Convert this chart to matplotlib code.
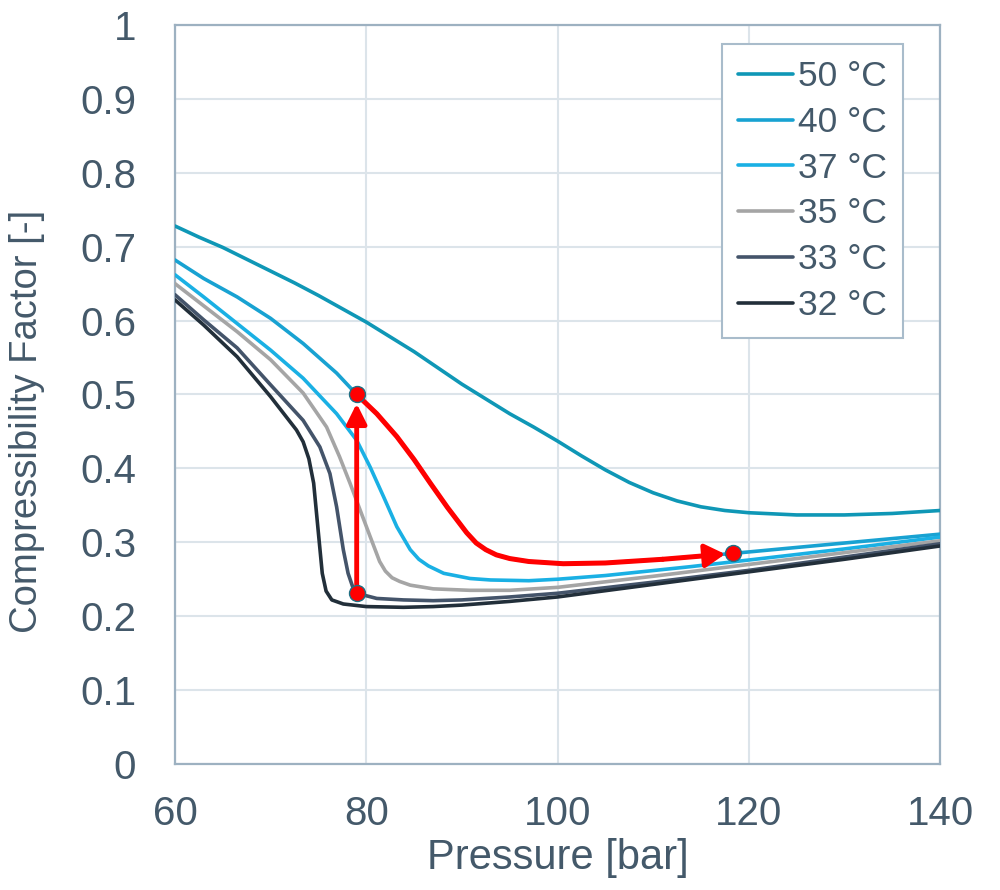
import numpy as np
import matplotlib
matplotlib.use("Agg")
import matplotlib.pyplot as plt

# Kompresibilnostni faktor CO2 pri razlicnih temperaturah
p_50 = [60, 62.5, 65, 67.5, 70, 72.5, 75, 77.5, 80, 82.5, 85, 87.5, 90, 92.5, 95, 97.5, 100,
        102.5, 105, 107.5, 110, 112.5, 115, 117.5, 120, 125, 130, 135, 140]
z_50 = [0.728, 0.713, 0.699, 0.683, 0.667, 0.651, 0.634, 0.616, 0.598, 0.578, 0.558, 0.536, 0.514, 0.494, 0.474, 0.456, 0.437,
        0.417, 0.398, 0.381, 0.367, 0.356, 0.348, 0.343, 0.340, 0.337, 0.337, 0.339, 0.343]

p_40 = [60, 63, 66.5, 70, 73.4, 76.9, 79, 81.1, 83.2, 85, 86.7, 88.5, 89.5, 90.5, 91.5, 92.5, 93.6, 95, 97,
        100.6, 105, 111, 118.4, 125, 130, 135, 140]
z_40 = [0.682, 0.657, 0.632, 0.603, 0.569, 0.529, 0.500, 0.474, 0.443, 0.412, 0.380, 0.347, 0.330, 0.313, 0.299, 0.290, 0.283, 0.278, 0.274,
        0.271, 0.272, 0.277, 0.285, 0.293, 0.299, 0.305, 0.311]

p_37 = [60, 63, 66.5, 70, 73.4, 76.9, 79, 80.4, 81.8, 83.2, 84.6, 85.5, 86.5, 88.1, 90.85, 93, 97, 100, 105, 113.9, 120, 130, 140]
z_37 = [0.662, 0.632, 0.596, 0.560, 0.522, 0.474, 0.438, 0.402, 0.362, 0.321, 0.290, 0.277, 0.268, 0.258, 0.251, 0.249, 0.248, 0.250, 0.255, 0.267, 0.276, 0.291, 0.307]

p_35 = [60, 63, 66.5, 70, 73.4, 75.85, 77.2, 78.3, 79.35, 80.4, 81.4, 82, 82.7, 83.5, 84.6, 87, 90.85, 95, 100, 110, 120, 130, 140]
z_35 = [0.650, 0.620, 0.585, 0.547, 0.502, 0.456, 0.416, 0.380, 0.344, 0.308, 0.274, 0.261, 0.252, 0.247, 0.242, 0.237, 0.235, 0.235, 0.239, 0.254, 0.270, 0.286, 0.302]

p_33 = [60, 63, 66.5, 70, 73.4, 75.15, 76.2, 76.9, 77.6, 78.1, 78.6, 79.3, 81.1, 83.9, 87, 90, 95, 100, 110, 120, 130, 140]
z_33 = [0.635, 0.601, 0.563, 0.513, 0.465, 0.429, 0.393, 0.348, 0.290, 0.258, 0.239, 0.230, 0.224, 0.222, 0.221, 0.222, 0.226, 0.231, 0.246, 0.262, 0.280, 0.298]

p_32 = [60, 63, 66.5, 70, 72.7, 73.4, 74, 74.5, 75, 75.4, 75.8, 76.4, 77.6, 80, 83.9, 87, 90, 95, 100, 110, 120, 130, 140]
z_32 = [0.628, 0.594, 0.551, 0.497, 0.452, 0.436, 0.413, 0.380, 0.312, 0.258, 0.234, 0.222, 0.2165, 0.213, 0.212, 0.213, 0.215, 0.220, 0.226, 0.243, 0.260, 0.277, 0.295]

oznake = ["50 °C", "40 °C", "37 °C", "35 °C", "33 °C", "32 °C"]
barve = ["#0F97B6", "#18A2D2", "#1AB0E4", "#A5A5A5", "#44546A", "#222F3A"]

# tocke procesa: stiskanje pri 79 bar, nato po izotermi 40 °C
tocke_p = [79, 79, 118.4]
tocke_z = [0.232, 0.500, 0.285]

besedilo = "#44596A"
plt.rcParams["font.family"] = ["Liberation Sans", "DejaVu Sans"]

fig = plt.figure(figsize=(10, 8.9), dpi=100)
ax = fig.add_axes([0.175, 0.1416, 0.765, 0.8303])

krivulje = [(p_50, z_50), (p_40, z_40), (p_37, z_37), (p_35, z_35), (p_33, z_33), (p_32, z_32)]
for (p, z), oznaka, barva in zip(krivulje, oznake, barve):
    ax.plot(p, z, color=barva, lw=2.6, label=oznaka, solid_capstyle="round",
            solid_joinstyle="round", zorder=3)

# navpicna puscica
ax.annotate("", xy=(tocke_p[1], tocke_z[1]), xytext=(tocke_p[0], tocke_z[0]),
            arrowprops=dict(arrowstyle="-|>,head_length=0.6,head_width=0.3", mutation_scale=20,
                            color="red", lw=3.5, shrinkA=0, shrinkB=6.5), zorder=5)

# rdeca pot po izotermi 40 °C
p40 = np.array(p_40)
z40 = np.array(z_40)
izbor = (p40 >= 79) & (p40 <= 111)
ax.plot(p40[izbor], z40[izbor], color="red", lw=3.6, solid_capstyle="round",
        solid_joinstyle="round", zorder=5)
ax.annotate("", xy=(tocke_p[2], tocke_z[2]), xytext=(p40[izbor][-1], z40[izbor][-1]),
            arrowprops=dict(arrowstyle="-|>,head_length=0.6,head_width=0.35", mutation_scale=20,
                            color="red", lw=3.6, shrinkA=0, shrinkB=6), zorder=5)

ax.plot(tocke_p, tocke_z, "o", ms=11.5, mfc="red", mec="#1F6F83", mew=1.0, ls="none", zorder=6)

ax.set_xlim(60, 140)
ax.set_ylim(0, 1)
ax.set_xticks([60, 80, 100, 120, 140])
ax.set_yticks(np.arange(0, 1.01, 0.1))
ax.set_yticklabels(["0", "0.1", "0.2", "0.3", "0.4", "0.5", "0.6", "0.7", "0.8", "0.9", "1"])
ax.tick_params(axis="both", length=0, labelsize=29, colors=besedilo)
ax.tick_params(axis="x", pad=22)
ax.tick_params(axis="y", pad=28)

ax.grid(True, color="#DCE4EA", lw=1.5, zorder=0)
ax.set_axisbelow(True)
for s in ax.spines.values():
    s.set_color("#9DB1C1")
    s.set_linewidth(1.6)

ax.set_xlabel("Pressure [bar]", fontsize=30, color=besedilo)
ax.set_ylabel("Compressibility Factor [-]", fontsize=27.5, color=besedilo)
ax.yaxis.set_label_coords(-0.17, 0.463)

leg = ax.legend(loc="upper right", bbox_to_anchor=(0.9516, 0.974), borderaxespad=0,
                fontsize=25.5, handlelength=1.55, handletextpad=0.15, labelspacing=0.36,
                borderpad=0.45, fancybox=False, framealpha=1, edgecolor="#A9BCCB")
leg.get_frame().set_linewidth(1.5)
for t in leg.get_texts():
    t.set_color(besedilo)

fig.savefig("out.png", dpi=100)
